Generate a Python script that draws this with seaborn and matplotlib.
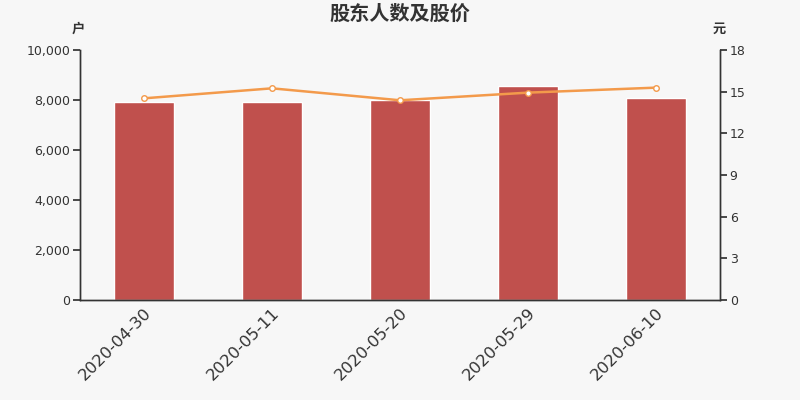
import numpy as np
import pandas as pd
import matplotlib
matplotlib.use("Agg")
import matplotlib.pyplot as plt
import seaborn as sns
from matplotlib.ticker import FuncFormatter, FixedLocator

sns.set_theme(style="white")
plt.rcParams['font.family'] = ['DejaVu Sans', 'Noto Sans CJK SC']

# data
dates = ['2020-04-30', '2020-05-11', '2020-05-20', '2020-05-29', '2020-06-10']
holders = [7920, 7920, 8010, 8550, 8080]
price = [14.52, 15.24, 14.38, 14.93, 15.29]

bg = '#f7f7f7'
txt = '#333333'
df = pd.DataFrame({'date': dates, 'holders': holders, 'price': price})
df['pos'] = np.arange(len(dates))

fig = plt.figure(figsize=(8, 4), dpi=100, facecolor=bg)
ax = fig.add_axes([0.1, 0.25, 0.8, 0.625])
ax.set_facecolor(bg)

sns.barplot(data=df, x='date', y='holders', color='#c0504d', saturation=1,
            width=0.47, ax=ax)
ax.set_xlim(-0.5, len(dates) - 0.5)
ax.set_ylim(0, 10000)
ax.set_yticks(np.arange(0, 10001, 2000))
ax.yaxis.set_major_formatter(FuncFormatter(lambda v, p: f'{int(v):,}'))
ax.set_xlabel('')
ax.set_ylabel('')

# ticks at category boundaries, labels under bars
ax.set_xticks(df['pos'])
ax.set_xticklabels(dates, rotation=45, ha='right', rotation_mode='anchor',
                   fontsize=11.8, color=txt)
ax.tick_params(axis='x', which='major', length=0, pad=4)
ax.xaxis.set_minor_locator(FixedLocator(np.arange(-0.5, len(dates), 1)))
ax.tick_params(axis='x', which='minor', length=5, color=txt, direction='out')
ax.tick_params(axis='y', length=5, color=txt, labelsize=9, labelcolor=txt,
               direction='out', left=True, pad=2)

ax2 = ax.twinx()
sns.lineplot(data=df, x='pos', y='price', color='#f39a4b', linewidth=1.8,
             marker='o', markersize=4, markerfacecolor='white',
             markeredgecolor='#f39a4b', markeredgewidth=1, ax=ax2)
ax2.set_ylim(0, 18)
ax2.set_yticks(np.arange(0, 19, 3))
ax2.set_ylabel('')
ax2.set_xlabel('')
ax2.tick_params(axis='y', length=5, color=txt, labelsize=9, labelcolor=txt,
                direction='out', right=True, pad=2)
ax.set_xlim(-0.5, len(dates) - 0.5)

for a in (ax, ax2):
    a.spines['top'].set_visible(False)
    for s in ('left', 'right', 'bottom'):
        a.spines[s].set_color(txt)
        a.spines[s].set_linewidth(1)
    a.grid(False)

cjk = ['Noto Sans CJK SC', 'DejaVu Sans']
fig.text(0.5, 0.966, '股东人数及股价', ha='center', va='center',
         fontsize=14.5, fontweight='bold', color=txt, family=cjk)
fig.text(0.098, 0.928, '户', ha='center', va='center', fontsize=9.5,
         fontweight='bold', color=txt, family=cjk)
fig.text(0.899, 0.928, '元', ha='center', va='center', fontsize=9.5,
         fontweight='bold', color=txt, family=cjk)

fig.savefig('out.png', dpi=100, facecolor=bg)
